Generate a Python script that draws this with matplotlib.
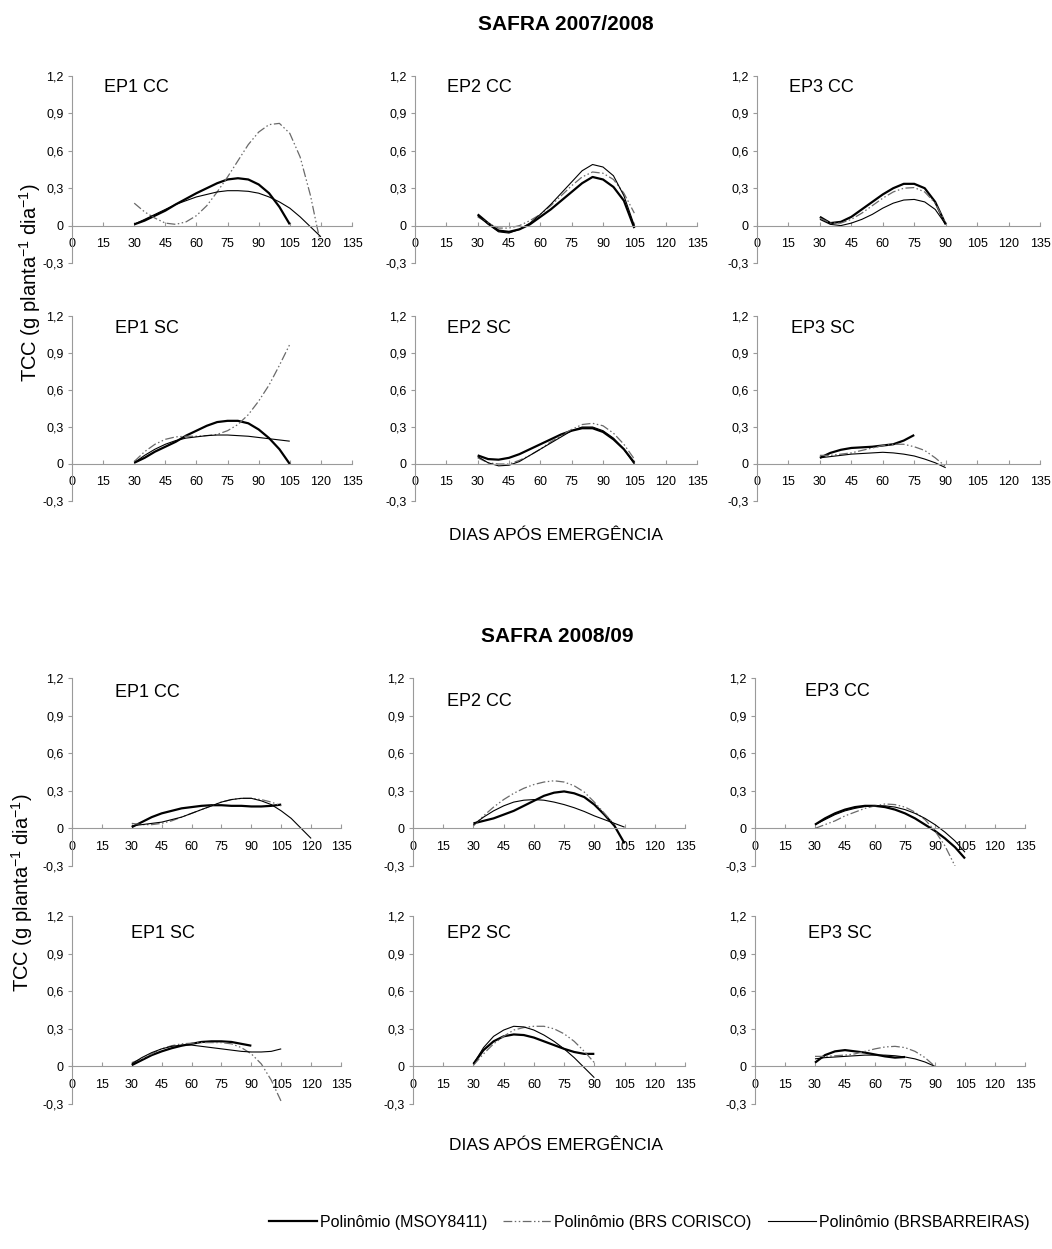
import numpy as np
import matplotlib
matplotlib.use("Agg")
import matplotlib.pyplot as plt
from matplotlib.lines import Line2D

plt.rcParams['font.family'] = ['Liberation Sans', 'DejaVu Sans']
plt.rcParams['mathtext.fontset'] = 'custom'
plt.rcParams['mathtext.rm'] = 'Liberation Sans'
plt.rcParams['mathtext.it'] = 'Liberation Sans'

# ---------------- data ----------------
series_names = ["Polinômio (MSOY8411)", "Polinômio (BRS CORISCO)", "Polinômio (BRSBARREIRAS)"]
x_ticks = [0, 15, 30, 45, 60, 75, 90, 105, 120, 135]
y_ticks = [-0.3, 0, 0.3, 0.6, 0.9, 1.2]
y_tick_labels = ["-0,3", "0", "0,3", "0,6", "0,9", "1,2"]
group_titles = ["SAFRA 2007/2008", "SAFRA 2008/09"]
panel_names = ["EP1 CC", "EP2 CC", "EP3 CC", "EP1 SC", "EP2 SC", "EP3 SC"]

# ---- SAFRA 2007/2008 ----
s1_ep1cc_msoy_x = [30, 35, 40, 45, 50, 55, 60, 65, 70, 75, 80, 85, 90, 95, 100, 105]
s1_ep1cc_msoy_y = [0.01, 0.04, 0.08, 0.12, 0.17, 0.215, 0.26, 0.30, 0.34, 0.37, 0.38, 0.37, 0.33, 0.26, 0.15, 0.01]
s1_ep1cc_cor_x = [30, 35, 40, 45, 50, 55, 60, 65, 70, 75, 80, 85, 90, 95, 100, 105, 110, 115, 118, 120]
s1_ep1cc_cor_y = [0.18, 0.11, 0.06, 0.02, 0.01, 0.03, 0.08, 0.16, 0.27, 0.39, 0.52, 0.65, 0.75, 0.81, 0.82, 0.74, 0.55, 0.24, 0.0, -0.15]
s1_ep1cc_bar_x = [30, 35, 40, 45, 50, 55, 60, 65, 70, 75, 80, 85, 90, 95, 100, 105, 110, 115, 120]
s1_ep1cc_bar_y = [0.01, 0.05, 0.09, 0.13, 0.17, 0.20, 0.23, 0.25, 0.27, 0.28, 0.28, 0.275, 0.26, 0.23, 0.19, 0.14, 0.07, -0.01, -0.09]

s1_ep2cc_msoy_x = [30, 35, 40, 45, 50, 55, 60, 65, 70, 75, 80, 85, 90, 95, 100, 105]
s1_ep2cc_msoy_y = [0.09, 0.02, -0.04, -0.05, -0.03, 0.01, 0.07, 0.13, 0.20, 0.27, 0.34, 0.39, 0.37, 0.31, 0.20, -0.02]
s1_ep2cc_cor_x = [30, 35, 40, 45, 50, 55, 60, 65, 70, 75, 80, 85, 90, 95, 100, 105]
s1_ep2cc_cor_y = [0.07, 0.02, -0.02, -0.02, 0.0, 0.04, 0.09, 0.16, 0.24, 0.32, 0.39, 0.43, 0.42, 0.37, 0.26, 0.10]
s1_ep2cc_bar_x = [30, 35, 40, 45, 50, 55, 60, 65, 70, 75, 80, 85, 90, 95, 100, 105]
s1_ep2cc_bar_y = [0.08, 0.01, -0.05, -0.06, -0.03, 0.02, 0.09, 0.17, 0.26, 0.35, 0.44, 0.49, 0.47, 0.40, 0.24, 0.0]

s1_ep3cc_msoy_x = [30, 35, 40, 45, 50, 55, 60, 65, 70, 75, 80, 85, 90]
s1_ep3cc_msoy_y = [0.07, 0.02, 0.03, 0.07, 0.13, 0.19, 0.25, 0.30, 0.335, 0.335, 0.30, 0.19, 0.01]
s1_ep3cc_cor_x = [30, 35, 40, 45, 50, 55, 60, 65, 70, 75, 80, 85, 90]
s1_ep3cc_cor_y = [0.06, 0.02, 0.02, 0.05, 0.10, 0.16, 0.22, 0.27, 0.30, 0.305, 0.27, 0.18, 0.02]
s1_ep3cc_bar_x = [30, 35, 40, 45, 50, 55, 60, 65, 70, 75, 80, 85, 90]
s1_ep3cc_bar_y = [0.05, 0.01, 0.0, 0.02, 0.05, 0.09, 0.14, 0.18, 0.205, 0.21, 0.19, 0.13, 0.01]

s1_ep1sc_msoy_x = [30, 35, 40, 45, 50, 55, 60, 65, 70, 75, 80, 85, 90, 95, 100, 105]
s1_ep1sc_msoy_y = [0.01, 0.05, 0.10, 0.14, 0.18, 0.23, 0.27, 0.31, 0.34, 0.35, 0.35, 0.33, 0.28, 0.21, 0.12, 0.0]
s1_ep1sc_cor_x = [30, 35, 40, 45, 50, 55, 60, 65, 70, 75, 80, 85, 90, 95, 100, 105]
s1_ep1sc_cor_y = [0.02, 0.10, 0.16, 0.20, 0.22, 0.225, 0.225, 0.23, 0.24, 0.27, 0.32, 0.40, 0.51, 0.64, 0.80, 0.97]
s1_ep1sc_bar_x = [30, 35, 40, 45, 50, 55, 60, 65, 70, 75, 80, 85, 90, 95, 100, 105]
s1_ep1sc_bar_y = [0.01, 0.07, 0.12, 0.16, 0.19, 0.21, 0.22, 0.23, 0.235, 0.235, 0.23, 0.225, 0.215, 0.205, 0.195, 0.185]

s1_ep2sc_msoy_x = [30, 35, 40, 45, 50, 55, 60, 65, 70, 75, 80, 85, 90, 95, 100, 105]
s1_ep2sc_msoy_y = [0.07, 0.04, 0.035, 0.05, 0.08, 0.12, 0.16, 0.20, 0.24, 0.27, 0.29, 0.29, 0.26, 0.20, 0.12, 0.01]
s1_ep2sc_cor_x = [30, 35, 40, 45, 50, 55, 60, 65, 70, 75, 80, 85, 90, 95, 100, 105]
s1_ep2sc_cor_y = [0.05, 0.01, 0.0, 0.0, 0.03, 0.07, 0.12, 0.18, 0.23, 0.28, 0.32, 0.33, 0.31, 0.25, 0.16, 0.04]
s1_ep2sc_bar_x = [30, 35, 40, 45, 50, 55, 60, 65, 70, 75, 80, 85, 90, 95, 100, 105]
s1_ep2sc_bar_y = [0.06, 0.01, -0.015, -0.01, 0.02, 0.07, 0.12, 0.17, 0.22, 0.27, 0.30, 0.30, 0.27, 0.21, 0.12, 0.0]

s1_ep3sc_msoy_x = [30, 35, 40, 45, 50, 55, 60, 65, 70, 75]
s1_ep3sc_msoy_y = [0.05, 0.09, 0.115, 0.13, 0.135, 0.14, 0.15, 0.16, 0.19, 0.235]
s1_ep3sc_cor_x = [30, 35, 40, 45, 50, 55, 60, 65, 70, 75, 80, 85, 90]
s1_ep3sc_cor_y = [0.07, 0.07, 0.08, 0.09, 0.11, 0.13, 0.15, 0.16, 0.16, 0.14, 0.11, 0.05, -0.02]
s1_ep3sc_bar_x = [30, 35, 40, 45, 50, 55, 60, 65, 70, 75, 80, 85, 90]
s1_ep3sc_bar_y = [0.05, 0.06, 0.07, 0.08, 0.085, 0.09, 0.095, 0.09, 0.08, 0.065, 0.04, 0.01, -0.03]

# ---- SAFRA 2008/09 ----
s2_ep1cc_msoy_x = [30, 35, 40, 45, 50, 55, 60, 65, 70, 75, 80, 85, 90, 95, 100, 105]
s2_ep1cc_msoy_y = [0.01, 0.05, 0.09, 0.12, 0.14, 0.16, 0.17, 0.18, 0.185, 0.185, 0.18, 0.18, 0.175, 0.175, 0.18, 0.19]
s2_ep1cc_cor_x = [30, 35, 40, 45, 50, 55, 60, 65, 70, 75, 80, 85, 90, 95, 100, 105]
s2_ep1cc_cor_y = [0.04, 0.03, 0.03, 0.04, 0.06, 0.09, 0.12, 0.15, 0.18, 0.21, 0.23, 0.24, 0.24, 0.23, 0.21, 0.18]
s2_ep1cc_bar_x = [30, 35, 40, 45, 50, 55, 60, 65, 70, 75, 80, 85, 90, 95, 100, 105, 110, 115, 120]
s2_ep1cc_bar_y = [0.02, 0.03, 0.04, 0.05, 0.07, 0.09, 0.12, 0.15, 0.18, 0.21, 0.23, 0.24, 0.24, 0.22, 0.19, 0.14, 0.08, 0.0, -0.08]

s2_ep2cc_msoy_x = [30, 35, 40, 45, 50, 55, 60, 65, 70, 75, 80, 85, 90, 95, 100, 105]
s2_ep2cc_msoy_y = [0.04, 0.06, 0.08, 0.11, 0.14, 0.18, 0.22, 0.26, 0.285, 0.295, 0.28, 0.25, 0.19, 0.11, 0.02, -0.12]
s2_ep2cc_cor_x = [30, 35, 40, 45, 50, 55, 60, 65, 70, 75, 80, 85, 90, 95, 100]
s2_ep2cc_cor_y = [0.02, 0.10, 0.17, 0.23, 0.28, 0.32, 0.35, 0.37, 0.38, 0.37, 0.34, 0.29, 0.21, 0.12, 0.03]
s2_ep2cc_bar_x = [30, 35, 40, 45, 50, 55, 60, 65, 70, 75, 80, 85, 90, 95, 100, 105]
s2_ep2cc_bar_y = [0.03, 0.09, 0.14, 0.18, 0.21, 0.225, 0.23, 0.225, 0.21, 0.19, 0.165, 0.135, 0.10, 0.07, 0.04, 0.01]

s2_ep3cc_msoy_x = [30, 35, 40, 45, 50, 55, 60, 65, 70, 75, 80, 85, 90, 95, 100, 105]
s2_ep3cc_msoy_y = [0.03, 0.08, 0.12, 0.15, 0.17, 0.18, 0.18, 0.17, 0.15, 0.12, 0.08, 0.03, -0.02, -0.08, -0.15, -0.24]
s2_ep3cc_cor_x = [30, 35, 40, 45, 50, 55, 60, 65, 70, 75, 80, 85, 90, 95, 100]
s2_ep3cc_cor_y = [0.0, 0.03, 0.06, 0.10, 0.13, 0.16, 0.18, 0.195, 0.19, 0.17, 0.13, 0.07, -0.02, -0.14, -0.30]
s2_ep3cc_bar_x = [30, 35, 40, 45, 50, 55, 60, 65, 70, 75, 80, 85, 90, 95, 100, 105]
s2_ep3cc_bar_y = [0.03, 0.07, 0.11, 0.14, 0.16, 0.175, 0.18, 0.18, 0.17, 0.15, 0.12, 0.08, 0.03, -0.03, -0.10, -0.19]

s2_ep1sc_msoy_x = [30, 35, 40, 45, 50, 55, 60, 65, 70, 75, 80, 85, 90]
s2_ep1sc_msoy_y = [0.01, 0.05, 0.09, 0.12, 0.145, 0.165, 0.18, 0.195, 0.20, 0.20, 0.195, 0.18, 0.165]
s2_ep1sc_cor_x = [30, 35, 40, 45, 50, 55, 60, 65, 70, 75, 80, 85, 90, 95, 100, 105]
s2_ep1sc_cor_y = [0.03, 0.06, 0.10, 0.14, 0.165, 0.18, 0.185, 0.19, 0.19, 0.19, 0.18, 0.15, 0.10, 0.02, -0.11, -0.28]
s2_ep1sc_bar_x = [30, 35, 40, 45, 50, 55, 60, 65, 70, 75, 80, 85, 90, 95, 100, 105]
s2_ep1sc_bar_y = [0.02, 0.07, 0.11, 0.14, 0.16, 0.17, 0.17, 0.16, 0.15, 0.14, 0.13, 0.12, 0.115, 0.115, 0.12, 0.14]

s2_ep2sc_msoy_x = [30, 35, 40, 45, 50, 55, 60, 65, 70, 75, 80, 85, 90]
s2_ep2sc_msoy_y = [0.02, 0.13, 0.20, 0.24, 0.255, 0.25, 0.23, 0.20, 0.17, 0.14, 0.115, 0.10, 0.10]
s2_ep2sc_cor_x = [30, 35, 40, 45, 50, 55, 60, 65, 70, 75, 80, 85, 90]
s2_ep2sc_cor_y = [0.01, 0.10, 0.18, 0.24, 0.29, 0.31, 0.32, 0.32, 0.30, 0.26, 0.20, 0.12, 0.03]
s2_ep2sc_bar_x = [30, 35, 40, 45, 50, 55, 60, 65, 70, 75, 80, 85, 90]
s2_ep2sc_bar_y = [0.02, 0.15, 0.24, 0.29, 0.32, 0.315, 0.29, 0.25, 0.20, 0.14, 0.07, -0.01, -0.09]

s2_ep3sc_msoy_x = [30, 35, 40, 45, 50, 55, 60, 65, 70, 75]
s2_ep3sc_msoy_y = [0.03, 0.09, 0.12, 0.13, 0.12, 0.11, 0.095, 0.08, 0.07, 0.075]
s2_ep3sc_cor_x = [30, 35, 40, 45, 50, 55, 60, 65, 70, 75, 80, 85, 90]
s2_ep3sc_cor_y = [0.08, 0.08, 0.085, 0.09, 0.10, 0.12, 0.14, 0.155, 0.16, 0.15, 0.12, 0.07, 0.0]
s2_ep3sc_bar_x = [30, 35, 40, 45, 50, 55, 60, 65, 70, 75, 80, 85, 90]
s2_ep3sc_bar_y = [0.06, 0.07, 0.075, 0.08, 0.085, 0.09, 0.09, 0.09, 0.085, 0.075, 0.06, 0.035, 0.0]

groups = [
    [
        [(s1_ep1cc_msoy_x, s1_ep1cc_msoy_y), (s1_ep1cc_cor_x, s1_ep1cc_cor_y), (s1_ep1cc_bar_x, s1_ep1cc_bar_y)],
        [(s1_ep2cc_msoy_x, s1_ep2cc_msoy_y), (s1_ep2cc_cor_x, s1_ep2cc_cor_y), (s1_ep2cc_bar_x, s1_ep2cc_bar_y)],
        [(s1_ep3cc_msoy_x, s1_ep3cc_msoy_y), (s1_ep3cc_cor_x, s1_ep3cc_cor_y), (s1_ep3cc_bar_x, s1_ep3cc_bar_y)],
        [(s1_ep1sc_msoy_x, s1_ep1sc_msoy_y), (s1_ep1sc_cor_x, s1_ep1sc_cor_y), (s1_ep1sc_bar_x, s1_ep1sc_bar_y)],
        [(s1_ep2sc_msoy_x, s1_ep2sc_msoy_y), (s1_ep2sc_cor_x, s1_ep2sc_cor_y), (s1_ep2sc_bar_x, s1_ep2sc_bar_y)],
        [(s1_ep3sc_msoy_x, s1_ep3sc_msoy_y), (s1_ep3sc_cor_x, s1_ep3sc_cor_y), (s1_ep3sc_bar_x, s1_ep3sc_bar_y)],
    ],
    [
        [(s2_ep1cc_msoy_x, s2_ep1cc_msoy_y), (s2_ep1cc_cor_x, s2_ep1cc_cor_y), (s2_ep1cc_bar_x, s2_ep1cc_bar_y)],
        [(s2_ep2cc_msoy_x, s2_ep2cc_msoy_y), (s2_ep2cc_cor_x, s2_ep2cc_cor_y), (s2_ep2cc_bar_x, s2_ep2cc_bar_y)],
        [(s2_ep3cc_msoy_x, s2_ep3cc_msoy_y), (s2_ep3cc_cor_x, s2_ep3cc_cor_y), (s2_ep3cc_bar_x, s2_ep3cc_bar_y)],
        [(s2_ep1sc_msoy_x, s2_ep1sc_msoy_y), (s2_ep1sc_cor_x, s2_ep1sc_cor_y), (s2_ep1sc_bar_x, s2_ep1sc_bar_y)],
        [(s2_ep2sc_msoy_x, s2_ep2sc_msoy_y), (s2_ep2sc_cor_x, s2_ep2sc_cor_y), (s2_ep2sc_bar_x, s2_ep2sc_bar_y)],
        [(s2_ep3sc_msoy_x, s2_ep3sc_msoy_y), (s2_ep3sc_cor_x, s2_ep3sc_cor_y), (s2_ep3sc_bar_x, s2_ep3sc_bar_y)],
    ],
]

# ---------------- layout / style ----------------
W, H = 1052, 1249
fig = plt.figure(figsize=(W / 100, H / 100), dpi=100)

# pixel layout: (left px of x=0, right px of x=135) per column; (top px of 1.2, bottom px of -0.3) per row
col_px = [[(72, 352), (415, 697), (757, 1040)],
          [(72, 341), (413, 685), (755, 1025)]]
row_px = [[(76, 263), (316, 501)],
          [(678, 866), (916, 1104)]]
label_pos = [
    [(15.4, 1.105), (15.4, 1.105), (15.4, 1.105), (20.5, 1.10), (15.4, 1.10), (16, 1.10)],
    [(21.5, 1.085), (17, 1.01), (25, 1.09), (29.5, 1.06), (17, 1.06), (26.5, 1.06)],
]

styles = [
    dict(color='black', lw=1.6, ls='-'),
    dict(color='#6a6a6a', lw=0.9, ls=(0, (7, 2, 1.2, 2, 1.2, 2))),
    dict(color='black', lw=0.8, ls='-'),
]
axis_color = '#9a9a9a'

for g in range(2):
    for i in range(6):
        r, c = divmod(i, 3)
        x0, x1 = col_px[g][c]
        yt, yb = row_px[g][r]
        ax = fig.add_axes([x0 / W, 1 - yb / H, (x1 - x0) / W, (yb - yt) / H])
        for s, (xs, ys) in enumerate(groups[g][i]):
            ax.plot(xs, ys, **styles[s], solid_capstyle='butt')
        ax.set_xlim(0, 135)
        ax.set_ylim(-0.3, 1.2)
        ax.spines['top'].set_visible(False)
        ax.spines['right'].set_visible(False)
        ax.spines['left'].set_position(('data', 0))
        ax.spines['bottom'].set_position(('data', 0))
        for sp in ('left', 'bottom'):
            ax.spines[sp].set_color(axis_color)
            ax.spines[sp].set_linewidth(0.8)
        ax.set_xticks(x_ticks)
        ax.set_xticklabels([str(v) for v in x_ticks])
        ax.set_yticks(y_ticks)
        ax.set_yticklabels(y_tick_labels)
        ax.tick_params(axis='x', direction='in', length=3, color=axis_color,
                       labelsize=9, pad=9)
        ax.tick_params(axis='y', direction='out', length=3, color=axis_color,
                       labelsize=9, pad=3)
        ax.patch.set_alpha(0)
        lx, ly = label_pos[g][i]
        ax.text(lx, ly, panel_names[i], fontsize=13, ha='left', va='center')

# titles and axis labels
fig.text(566 / W, 1 - 24 / H, group_titles[0], fontsize=15, fontweight='bold', ha='center', va='center')
fig.text(557 / W, 1 - 637 / H, group_titles[1], fontsize=15, fontweight='bold', ha='center', va='center')
fig.text(556 / W, 1 - 535 / H, "DIAS APÓS EMERGÊNCIA", fontsize=12.5, ha='center', va='center')
fig.text(556 / W, 1 - 1145 / H, "DIAS APÓS EMERGÊNCIA", fontsize=12.5, ha='center', va='center')
ylab = "TCC (g planta$^{-1}$ dia$^{-1}$)"
fig.text(30 / W, 1 - 283 / H, ylab, fontsize=14.5, rotation=90, ha='center', va='center')
fig.text(22 / W, 1 - 893 / H, ylab, fontsize=14.5, rotation=90, ha='center', va='center')

handles = [Line2D([], [], **styles[s]) for s in range(3)]
fig.legend(handles, series_names, loc='center', bbox_to_anchor=(649 / W, 1 - 1222 / H),
           ncol=3, frameon=False, fontsize=11.5, handlelength=3.0, handletextpad=0.2,
           columnspacing=1.0)

fig.savefig("out.png", dpi=100, facecolor='white')
